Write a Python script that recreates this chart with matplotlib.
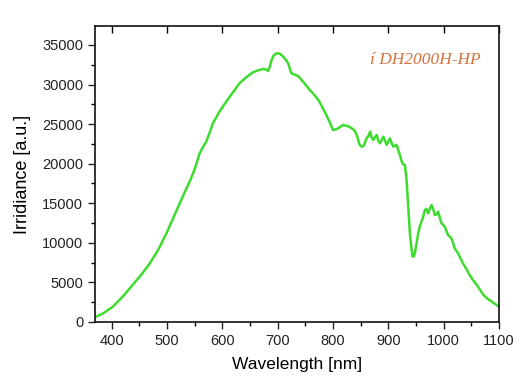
import matplotlib.pyplot as plt
from matplotlib.ticker import MultipleLocator

plt.rcParams['font.family'] = ['Liberation Sans', 'DejaVu Sans']

# spectrum
wavelength = [370, 385, 402, 420, 438, 455, 469, 484, 499, 511, 523, 532, 541, 550, 559,
              565, 571, 577, 583, 595, 607, 619, 631, 643, 655, 665, 674, 679, 683, 686,
              689, 693, 698, 704, 710, 715, 719, 722, 725, 731, 737, 748, 758, 764, 775,
              788, 795, 800, 806, 812, 818, 824, 830, 834, 839, 843, 848, 852, 856, 860,
              864, 867, 870, 873, 876, 879, 882, 885, 888, 891, 894, 897, 900, 903, 906,
              909, 912, 915, 918, 921, 924, 927,
              930, 933, 936, 939, 942, 944, 946, 948, 951, 954, 957, 960, 963, 966, 969,
              972, 975, 978, 981, 984, 987, 990, 993, 996, 999, 1002, 1005, 1008, 1011,
              1014, 1017, 1020, 1023, 1026, 1030, 1035, 1041, 1047, 1053, 1060, 1066,
              1072, 1079, 1087, 1094, 1100]
irradiance = [600, 1100, 1930, 3200, 4680, 6100, 7410, 9100, 11200, 13100, 15000, 16400,
              17730, 19300, 21300, 22100, 22790, 23900, 25100, 26600, 27840, 29000, 30160,
              30900, 31550, 31800, 31970, 31900, 31720, 32300, 33100, 33700, 33950, 33900,
              33530, 33100, 32690, 32000, 31430, 31250, 31080, 30200, 29310, 28900, 27900,
              26160, 25100, 24260, 24350, 24600, 24890, 24800, 24650, 24470, 24200, 23630,
              22400, 22150, 22300, 23100, 23500, 24050, 23300, 23000, 23400, 23630, 22900,
              22580, 23000, 23420, 22900, 22370, 22800, 23210, 22600, 22150, 22300, 22370,
              21700, 21100, 20300, 19900,
              19840, 17940, 14570, 11200, 9200, 8250, 8300, 8680, 9900, 11200, 12100, 12680,
              13300, 14150, 14300, 13730, 14300, 14780, 14300, 13520, 13600, 13940, 13200,
              12470, 12300, 12050, 11500, 10990, 10800, 10570, 10000, 9310, 9000, 8680,
              8100, 7410, 6700, 5940, 5300, 4680, 4050, 3410, 2950, 2570, 2220, 1930]

fig = plt.figure(figsize=(5.31, 3.87), dpi=100)
ax = fig.add_axes([0.179, 0.168, 0.7607, 0.7648])

ax.plot(wavelength, irradiance, color='#3ddc2f', lw=1.8)

ax.set_xlim(370, 1100)
ax.set_ylim(0, 37400)
ax.xaxis.set_major_locator(MultipleLocator(100))
ax.xaxis.set_minor_locator(MultipleLocator(50))
ax.yaxis.set_major_locator(MultipleLocator(5000))
ax.yaxis.set_minor_locator(MultipleLocator(2500))

ax.tick_params(axis='both', which='major', direction='out', length=5, width=1,
               labelsize=10.5, colors='#222222')
ax.tick_params(axis='both', which='minor', direction='out', length=3, width=1)
ax.tick_params(axis='x', which='both', top=False, pad=4)
ax.tick_params(axis='y', which='both', right=False)

# inward ticks on the top axis
sec = ax.secondary_xaxis('top')
sec.xaxis.set_major_locator(MultipleLocator(100))
sec.tick_params(direction='in', length=5, width=1, labeltop=False)
sec.spines['top'].set_visible(False)

for s in ax.spines.values():
    s.set_linewidth(1.2)
    s.set_color('#111111')

ax.set_xlabel('Wavelength [nm]', fontsize=12.5, labelpad=6)
ax.set_ylabel('Irridiance [a.u.]', fontsize=13, labelpad=8)

ax.text(0.955, 0.885, 'í DH2000H-HP', transform=ax.transAxes, ha='right', va='center',
        fontsize=12.5, style='italic', family='Liberation Serif', color='#d2723c')

fig.savefig('out.png', dpi=100)
